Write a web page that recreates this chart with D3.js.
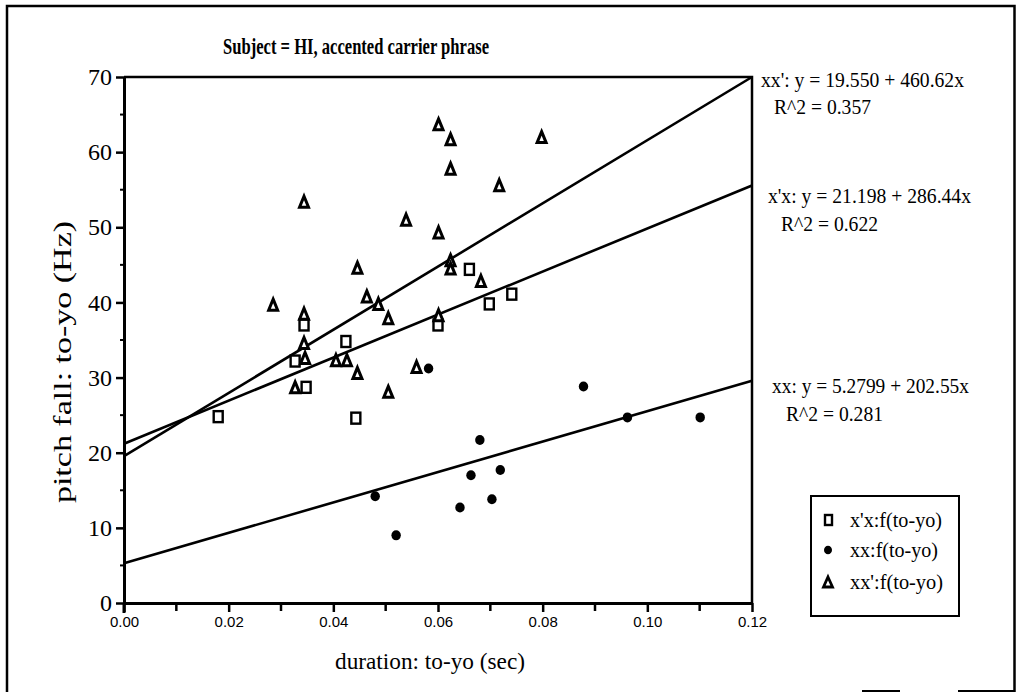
<!DOCTYPE html>
<html>
<head>
<meta charset="utf-8">
<script src="https://cdn.jsdelivr.net/npm/d3@7"></script>
<style>
  html, body { margin: 0; padding: 0; background: #fff; }
  svg { display: block; }
</style>
</head>
<body>
<svg id="chart" width="1025" height="699"></svg>
<script>
// ---------- data ----------
const titleText = "Subject = HI, accented carrier phrase";
const xLabel = "duration: to-yo (sec)";
const yLabel = "pitch fall: to-yo (Hz)";
const xTicks = [0, 0.02, 0.04, 0.06, 0.08, 0.10, 0.12];
const yTicks = [0, 10, 20, 30, 40, 50, 60, 70];

// x'x series (open squares)
const sqX = [0.018, 0.0327, 0.0348, 0.0344, 0.0424, 0.0443, 0.0600, 0.0660, 0.0698, 0.0741];
const sqY = [24.8, 32.2, 28.7, 37.0, 34.8, 24.6, 37.0, 44.4, 39.8, 41.1];

// xx series (filled circles)
const ciX = [0.048, 0.052, 0.0582, 0.0642, 0.0663, 0.0680, 0.0703, 0.0719, 0.0878, 0.0962, 0.1101];
const ciY = [14.2, 9.0, 31.2, 12.7, 17.0, 21.7, 13.8, 17.7, 28.8, 24.7, 24.7];

// xx' series (open triangles)
const trX = [0.0285, 0.0344, 0.0344, 0.0344, 0.0346, 0.0327, 0.0405, 0.0426, 0.0446, 0.0446,
             0.0464, 0.0486, 0.0505, 0.0505, 0.0539, 0.0559, 0.0601, 0.0601, 0.0601, 0.0624,
             0.0624, 0.0624, 0.0624, 0.0682, 0.0717, 0.0798];
const trY = [39.7, 53.4, 38.5, 34.6, 32.6, 28.7, 32.3, 32.3, 44.6, 30.6,
             40.8, 39.8, 37.9, 28.1, 51.0, 31.4, 63.7, 49.3, 38.3, 61.7,
             57.8, 45.6, 44.5, 42.85, 55.6, 62.0];

// regression lines as drawn: [y at x=0, y at x=0.12]
const fitNames = ["xx'", "x'x", "xx"];
const fitStart = [19.55, 21.198, 5.2799];
const fitEnd = [70.0, 55.57, 29.59];
const eqLines = ["xx': y = 19.550 + 460.62x", "x'x: y = 21.198 + 286.44x", "xx: y = 5.2799 + 202.55x"];
const r2Lines = ["R^2 = 0.357", "R^2 = 0.622", "R^2 = 0.281"];
const legendLabels = ["x'x:f(to-yo)", "xx:f(to-yo)", "xx':f(to-yo)"];

// ---------- layout ----------
const L = 124, R = 752, T = 77, B = 603;
const serif = "'Liberation Serif', 'Times New Roman', serif";
const sans = "'Liberation Sans', Arial, sans-serif";

const svg = d3.select("#chart");
const x = d3.scaleLinear().domain([0, 0.12]).range([L, R]);
const y = d3.scaleLinear().domain([0, 70]).range([B, T]);

// helper: horizontally condensed text
function ctext(g, str, px, py, size, width, opts = {}) {
  const t = g.append("text").attr("x", px).attr("y", py)
    .attr("font-family", opts.family || serif).attr("font-size", size)
    .attr("text-anchor", opts.anchor || "start")
    .text(str);
  if (opts.weight) t.attr("font-weight", opts.weight);
  if (width) t.attr("textLength", width).attr("lengthAdjust", "spacingAndGlyphs");
  return t;
}

// outer frame (left, top, right) with the fragments of the bottom edge
svg.append("path").attr("d", "M7,692V6H1014.5V692")
  .attr("fill", "none").attr("stroke", "#000").attr("stroke-width", 2.5);
svg.append("path").attr("d", "M862,691H900M958,691H1014")
  .attr("fill", "none").attr("stroke", "#000").attr("stroke-width", 2);

// title
ctext(svg, titleText, 223, 54, 24, 266, { weight: "bold" });

// top and right border of plot
svg.append("path").attr("d", `M${L},${T}H${R}V${B}`)
  .attr("fill", "none").attr("stroke", "#000").attr("stroke-width", 2.5);

// x axis
const xAxis = svg.append("g").attr("transform", `translate(0,${B})`)
  .call(d3.axisBottom(x).tickValues(xTicks).tickSize(9).tickSizeOuter(0).tickFormat(d3.format(".2f")));
xAxis.select(".domain").attr("stroke-width", 3);
xAxis.selectAll(".tick line").attr("stroke-width", 2.5);
xAxis.selectAll(".tick text").attr("font-family", sans).attr("font-size", 15).attr("fill", "#000").attr("dy", "0.8em");
svg.append("g").selectAll("line").data([0.01, 0.03, 0.05, 0.07, 0.09, 0.11]).join("line")
  .attr("x1", d => x(d)).attr("x2", d => x(d)).attr("y1", B).attr("y2", B + 8)
  .attr("stroke", "#000").attr("stroke-width", 2.5);

// y axis
const yAxis = svg.append("g").attr("transform", `translate(${L},0)`)
  .call(d3.axisLeft(y).tickValues(yTicks).tickSize(8).tickSizeOuter(0).tickFormat(d3.format("d")));
yAxis.select(".domain").attr("stroke-width", 3);
yAxis.selectAll(".tick line").attr("stroke-width", 2.5);
yAxis.selectAll(".tick text").attr("font-family", serif).attr("font-size", 24).attr("fill", "#000").attr("dx", "-1px");
svg.append("g").selectAll("line").data([5, 15, 25, 35, 45, 55, 65]).join("line")
  .attr("x1", L).attr("x2", L - 4).attr("y1", d => y(d)).attr("y2", d => y(d))
  .attr("stroke", "#000").attr("stroke-width", 2);
svg.append("line").attr("x1", L).attr("x2", L).attr("y1", B).attr("y2", B + 10)
  .attr("stroke", "#000").attr("stroke-width", 3);

// axis labels
ctext(svg, xLabel, 430, 669, 24, 190, { anchor: "middle" });
svg.append("g").attr("transform", "translate(71,362) rotate(-90) scale(1,0.74)")
  .append("text").attr("text-anchor", "middle")
  .attr("font-family", serif).attr("font-size", 34).text(yLabel);

// regression lines
const fits = fitNames.map((n, i) => ({ n, a: fitStart[i], b: fitEnd[i] }));
svg.append("g").selectAll("line").data(fits).join("line")
  .attr("x1", x(0)).attr("y1", d => y(d.a)).attr("x2", x(0.12)).attr("y2", d => y(d.b))
  .attr("stroke", "#000").attr("stroke-width", 2.6);

// markers
const triPath = (cx, cy, w = 9, h = 11) => `M${cx},${cy - h / 2}L${cx + w / 2},${cy + h / 2}L${cx - w / 2},${cy + h / 2}Z`;
const sqData = sqX.map((v, i) => ({ x: v, y: sqY[i] }));
const ciData = ciX.map((v, i) => ({ x: v, y: ciY[i] }));
const trData = trX.map((v, i) => ({ x: v, y: trY[i] }));

svg.append("g").selectAll("rect").data(sqData).join("rect")
  .attr("x", d => x(d.x) - 4.5).attr("y", d => y(d.y) - 5.5).attr("width", 9).attr("height", 11)
  .attr("fill", "#fff").attr("stroke", "#000").attr("stroke-width", 2.4);
svg.append("g").selectAll("ellipse").data(ciData).join("ellipse")
  .attr("cx", d => x(d.x)).attr("cy", d => y(d.y)).attr("rx", 4.7).attr("ry", 5)
  .attr("fill", "#000");
svg.append("g").selectAll("path").data(trData).join("path")
  .attr("d", d => triPath(x(d.x), y(d.y)))
  .attr("fill", "#fff").attr("stroke", "#000").attr("stroke-width", 3).attr("stroke-linejoin", "miter");

// equations
const eqPos = [[761, 87], [774, 114], [768, 203], [781, 231], [772, 393], [786, 421]];
const eqW = [203, 97, 203, 97, 197, 97];
eqLines.forEach((t, i) => {
  ctext(svg, t, eqPos[2 * i][0], eqPos[2 * i][1], 22, eqW[2 * i]);
  ctext(svg, r2Lines[i], eqPos[2 * i + 1][0], eqPos[2 * i + 1][1], 22, eqW[2 * i + 1]);
});

// legend
const lg = svg.append("g");
lg.append("rect").attr("x", 811).attr("y", 496).attr("width", 148).attr("height", 120)
  .attr("fill", "#fff").attr("stroke", "#000").attr("stroke-width", 2);
const rowY = [520, 550, 582];
const lgW = [92, 88, 93];
legendLabels.forEach((t, i) => ctext(lg, t, 850, rowY[i] + 7, 22, lgW[i]));
lg.append("rect").attr("x", 825).attr("y", rowY[0] - 5).attr("width", 7).attr("height", 10)
  .attr("fill", "#fff").attr("stroke", "#000").attr("stroke-width", 2.4);
lg.append("ellipse").attr("cx", 828).attr("cy", rowY[1]).attr("rx", 4).attr("ry", 4.3).attr("fill", "#000");
lg.append("path").attr("d", triPath(828, rowY[2], 9, 10))
  .attr("fill", "#fff").attr("stroke", "#000").attr("stroke-width", 2.8);
</script>
</body>
</html>
